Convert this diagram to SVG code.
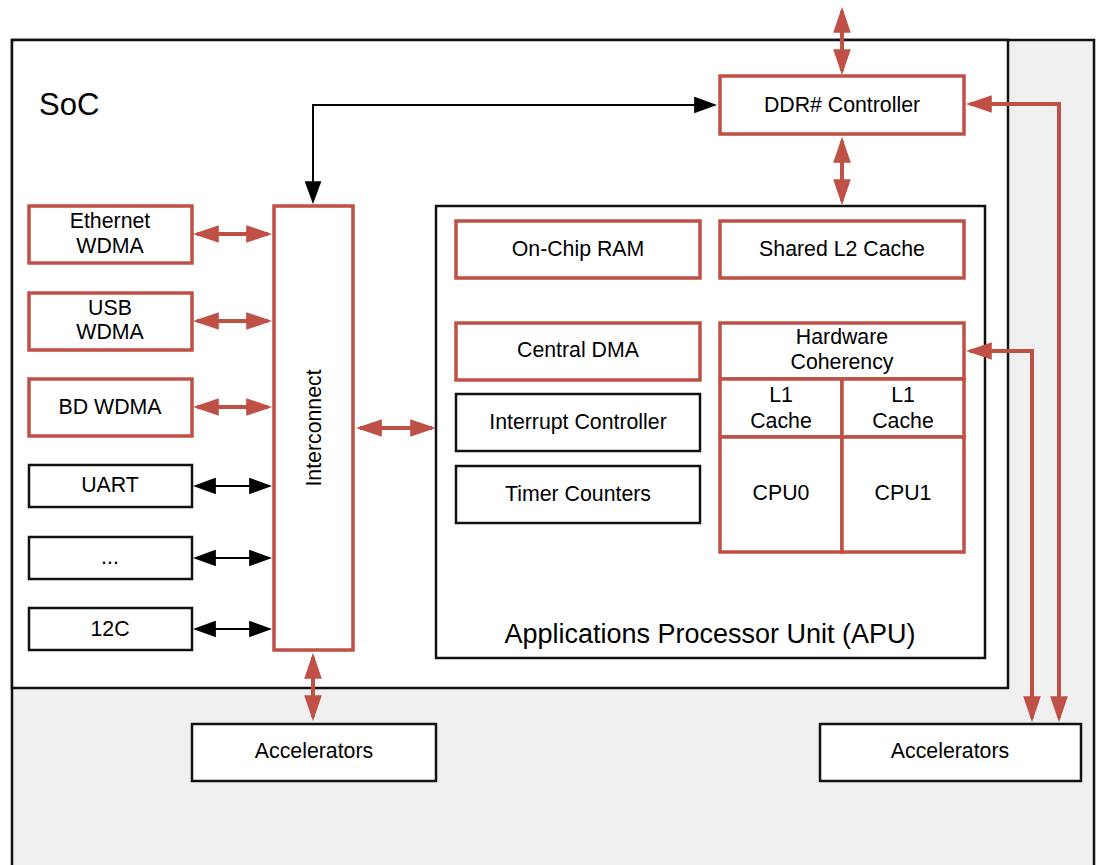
<svg xmlns="http://www.w3.org/2000/svg" width="1096" height="865" viewBox="0 0 1096 865">
<defs>
<style>
text{font-family:"Liberation Sans",Arial,sans-serif;font-size:21.3px;fill:#000;text-anchor:middle}
.r{fill:#fff;stroke:#bf5045;stroke-width:3.5}
.k{fill:#fff;stroke:#111;stroke-width:2.5}
.cr{fill:none;stroke:#bf5045;stroke-width:4}
.ck{fill:none;stroke:#000;stroke-width:2}
</style>
<marker id="ar" markerUnits="userSpaceOnUse" markerWidth="26" markerHeight="18" viewBox="0 0 25 17" refX="21" refY="8.5" orient="auto-start-reverse"><path d="M0,0 L25,8.5 L0,17 z" fill="#bf5045"/></marker>
<marker id="ak" markerUnits="userSpaceOnUse" markerWidth="23" markerHeight="17" viewBox="0 0 22 16" refX="19" refY="8" orient="auto-start-reverse"><path d="M0,0 L22,8 L0,16 z" fill="#000"/></marker>
</defs>
<rect x="0" y="0" width="1096" height="865" fill="#fff"/>
<g id="board"><rect x="12" y="40" width="1082" height="900" fill="#f0f0f0" stroke="#111" stroke-width="2.5"/></g>
<g id="soc"><rect x="12" y="40" width="996" height="648" fill="#fff" stroke="#111" stroke-width="2.5"/><text x="39" y="115" style="font-size:31px;text-anchor:start">SoC</text></g>
<g id="apu"><rect x="436" y="206" width="549" height="452" class="k"/><text x="710" y="643" style="font-size:27px">Applications Processor Unit (APU)</text></g>
<g id="ddr"><rect x="720" y="76" width="244" height="58" class="r"/><text x="842" y="112">DDR# Controller</text></g>
<g id="interconnect"><rect x="274" y="206" width="79" height="444" class="r"/><text transform="translate(321,428) rotate(-90)">Interconnect</text></g>
<g id="ethernet"><rect x="29" y="206" width="163" height="57" class="r"/><text x="110" y="228">Ethernet</text><text x="110" y="253">WDMA</text></g>
<g id="usb"><rect x="29" y="293" width="163" height="57" class="r"/><text x="110" y="315">USB</text><text x="110" y="339">WDMA</text></g>
<g id="bd"><rect x="29" y="379" width="163" height="57" class="r"/><text x="110" y="414">BD WDMA</text></g>
<g id="uart"><rect x="29" y="465" width="163" height="42" class="k"/><text x="110" y="492">UART</text></g>
<g id="etc"><rect x="29" y="537" width="163" height="42" class="k"/><text x="110" y="564">...</text></g>
<g id="i2c"><rect x="29" y="608" width="163" height="42" class="k"/><text x="110" y="636">12C</text></g>
<g id="ocram"><rect x="456" y="221" width="244" height="57" class="r"/><text x="578" y="256">On-Chip RAM</text></g>
<g id="l2"><rect x="720" y="221" width="244" height="57" class="r"/><text x="842" y="256">Shared L2 Cache</text></g>
<g id="cdma"><rect x="456" y="323" width="244" height="57" class="r"/><text x="578" y="357">Central DMA</text></g>
<g id="intc"><rect x="456" y="394" width="244" height="57" class="k"/><text x="578" y="429">Interrupt Controller</text></g>
<g id="timer"><rect x="456" y="466" width="244" height="57" class="k"/><text x="578" y="501">Timer Counters</text></g>
<g id="hwc"><rect x="720" y="323" width="244" height="56" class="r"/><text x="842" y="344">Hardware</text><text x="842" y="369">Coherency</text></g>
<g id="l1a"><rect x="720" y="379" width="122" height="58" class="r"/><text x="781" y="402">L1</text><text x="781" y="428">Cache</text></g>
<g id="l1b"><rect x="842" y="379" width="122" height="58" class="r"/><text x="903" y="402">L1</text><text x="903" y="428">Cache</text></g>
<g id="cpu0"><rect x="720" y="437" width="122" height="115" class="r"/><text x="781" y="500">CPU0</text></g>
<g id="cpu1"><rect x="842" y="437" width="122" height="115" class="r"/><text x="903" y="500">CPU1</text></g>
<g id="acc1"><rect x="192" y="724" width="244" height="57" class="k"/><text x="314" y="758">Accelerators</text></g>
<g id="acc2"><rect x="820" y="724" width="261" height="57" class="k"/><text x="950" y="758">Accelerators</text></g>
<g id="connectors">
<path class="cr" d="M842,11 V71" marker-start="url(#ar)" marker-end="url(#ar)"/>
<path class="cr" d="M842,141 V201" marker-start="url(#ar)" marker-end="url(#ar)"/>
<path class="cr" d="M970,104 H1059 V718" marker-start="url(#ar)" marker-end="url(#ar)"/>
<path class="cr" d="M970,351 H1032 V718" marker-start="url(#ar)" marker-end="url(#ar)"/>
<path class="ck" d="M313,201 V105 H714" marker-start="url(#ak)" marker-end="url(#ak)"/>
<path class="cr" d="M197,234 H268" marker-start="url(#ar)" marker-end="url(#ar)"/>
<path class="cr" d="M197,321 H268" marker-start="url(#ar)" marker-end="url(#ar)"/>
<path class="cr" d="M197,407 H268" marker-start="url(#ar)" marker-end="url(#ar)"/>
<path class="ck" d="M196,486 H269" marker-start="url(#ak)" marker-end="url(#ak)"/>
<path class="ck" d="M196,558 H269" marker-start="url(#ak)" marker-end="url(#ak)"/>
<path class="ck" d="M196,629 H269" marker-start="url(#ak)" marker-end="url(#ak)"/>
<path class="cr" d="M360,428 H432" marker-start="url(#ar)" marker-end="url(#ar)"/>
<path class="cr" d="M313,657 V717" marker-start="url(#ar)" marker-end="url(#ar)"/>
</g>
</svg>
